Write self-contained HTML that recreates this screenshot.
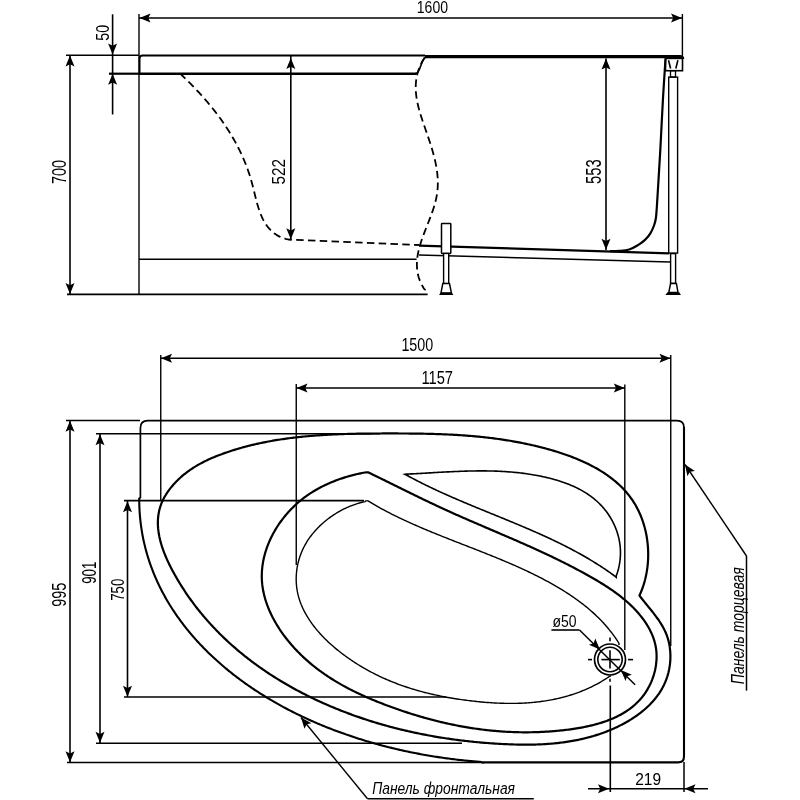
<!DOCTYPE html>
<html><head><meta charset="utf-8"><style>
html,body{margin:0;padding:0;background:#fff;}
svg{display:block;filter:grayscale(1);}
text{font-family:"Liberation Sans",sans-serif;fill:#000;stroke:none;}
</style></head><body>
<svg width="800" height="800" viewBox="0 0 800 800">
<rect width="800" height="800" fill="#fff"/>
<g fill="none" stroke="#000" stroke-linecap="butt">
<line x1="139" y1="18" x2="682.4" y2="18" stroke-width="1.4" />
<path d="M139.5,18 L150.5,13.5 L148.3,18 L150.5,22.5 Z" fill="#000" stroke="none"/>
<path d="M682,18 L671,22.5 L673.2,18 L671,13.5 Z" fill="#000" stroke="none"/>
<line x1="682.4" y1="14" x2="682.4" y2="56" stroke-width="1.4" />
<line x1="139" y1="14" x2="139" y2="294.5" stroke-width="1.4" />
<text x="416.8" y="13.4" font-size="17.2" textLength="31.18" lengthAdjust="spacingAndGlyphs" text-anchor="start">1600</text>
<line x1="112.6" y1="14.3" x2="112.6" y2="114.5" stroke-width="1.6" />
<path d="M112.6,54.5 L108.1,43.5 L112.6,45.7 L117.1,43.5 Z" fill="#000" stroke="none"/>
<path d="M112.6,73.8 L117.1,84.8 L112.6,82.6 L108.1,84.8 Z" fill="#000" stroke="none"/>
<line x1="66" y1="55.3" x2="139" y2="55.3" stroke-width="1.4" />
<line x1="109" y1="73.7" x2="139" y2="73.7" stroke-width="2.2" />
<text x="108.8" y="40.8" font-size="19.28" textLength="15.93" lengthAdjust="spacingAndGlyphs" transform="rotate(-90 108.8 40.8)" text-anchor="start">50</text>
<line x1="70" y1="55.3" x2="70" y2="294.3" stroke-width="1.6" />
<path d="M70,55.5 L74.5,66.5 L70,64.3 L65.5,66.5 Z" fill="#000" stroke="none"/>
<path d="M70,294 L65.5,283 L70,285.2 L74.5,283 Z" fill="#000" stroke="none"/>
<text x="66" y="184" font-size="20.71" textLength="24.14" lengthAdjust="spacingAndGlyphs" transform="rotate(-90 66 184)" text-anchor="start">700</text>
<path d="M139.6,73.7 L139.6,58.5 Q139.6,55.5 142.6,55.5 L425,55.5" stroke-width="1.8"/>
<line x1="139" y1="73.7" x2="416.3" y2="73.7" stroke-width="2.4" />
<path d="M415.5,73.7 C418.5,73.6 419.8,69 421,65 C422.3,60.5 423.5,57.2 427,56.8" stroke-width="1.7"/>
<path d="M425,56.6 L680,56.6 Q682.6,56.6 682.6,59" stroke-width="3.3"/>
<line x1="139" y1="259.3" x2="416.6" y2="259.3" stroke-width="1.5" />
<line x1="67" y1="294.4" x2="427.6" y2="294.4" stroke-width="1.8" />
<path d="M179.6,73.9 L181.12,74.45 182.21,75.49 183.29,76.54 184.38,77.59 185.46,78.64 186.53,79.7 187.61,80.76 188.67,81.83 189.74,82.9 190.8,83.97 191.86,85.05 192.91,86.14 193.96,87.22 195,88.32 196.04,89.41 197.07,90.51 198.1,91.62 199.12,92.73 200.14,93.84 201.16,94.96 202.16,96.08 203.17,97.21 204.16,98.34 205.16,99.48 206.14,100.62 207.12,101.77 208.1,102.92 209.06,104.07 210.03,105.24 210.98,106.4 211.93,107.57 212.87,108.75 213.81,109.93 214.74,111.11 215.66,112.3 216.58,113.49 217.49,114.69 218.39,115.9 219.28,117.11 220.17,118.32 221.05,119.54 221.92,120.77 222.79,122 223.64,123.23 224.49,124.48 225.33,125.72 226.17,126.97 226.99,128.23 227.81,129.49 228.62,130.76 229.42,132.03 230.21,133.31 230.99,134.59 231.76,135.88 232.53,137.18 233.28,138.48 234.03,139.79 234.76,141.1 235.49,142.41 236.21,143.74 236.92,145.07 237.61,146.4 238.3,147.74 238.98,149.09 239.65,150.44 240.31,151.8 240.96,153.16 241.59,154.53 242.22,155.91 242.84,157.29 243.44,158.68 244.04,160.07 244.62,161.47 245.2,162.87 245.76,164.29 246.31,165.7 246.85,167.13 247.38,168.56 247.89,170 248.4,171.44 248.89,172.89 249.37,174.34 249.84,175.81 250.3,177.28 250.74,178.75 251.18,180.23 251.6,181.72 252,183.21 252.4,184.71 252.79,186.22 253.17,187.72 253.55,189.23 253.92,190.74 254.29,192.25 254.65,193.76 255.02,195.26 255.39,196.76 255.77,198.26 256.15,199.75 256.54,201.23 256.93,202.7 257.34,204.17 257.76,205.62 258.2,207.06 258.64,208.49 259.11,209.91 259.59,211.31 260.1,212.69 260.63,214.06 261.18,215.41 261.75,216.73 262.36,218.04 262.99,219.33 263.65,220.59 264.34,221.83 265.07,223.04 265.83,224.23 266.63,225.39 267.46,226.52 268.34,227.62 269.26,228.69 270.22,229.73 271.22,230.73 272.27,231.7 273.37,232.62 274.51,233.51 275.71,234.35 276.95,235.14 278.24,235.88 279.59,236.58 280.99,237.21 282.45,237.8 283.96,238.32 285.52,238.78 287.15,239.18 288.84,239.51 290.58,239.77 292,239.6 L419,245" stroke-width="1.8" stroke-dasharray="7.5 4.3"/>
<path d="M424.5,57.5 L424.06,58.62 423.16,60.09 422.32,61.55 421.54,63.02 420.82,64.48 420.15,65.95 419.53,67.41 418.96,68.87 418.44,70.33 417.98,71.8 417.56,73.26 417.18,74.71 416.86,76.17 416.57,77.63 416.33,79.09 416.14,80.55 415.98,82 415.86,83.46 415.78,84.91 415.74,86.37 415.73,87.82 415.76,89.28 415.82,90.73 415.92,92.19 416.04,93.64 416.2,95.09 416.38,96.54 416.59,98 416.83,99.45 417.09,100.9 417.37,102.35 417.68,103.8 418.01,105.25 418.36,106.7 418.73,108.15 419.12,109.61 419.52,111.06 419.94,112.51 420.37,113.96 420.81,115.41 421.27,116.86 421.74,118.31 422.21,119.76 422.7,121.21 423.19,122.66 423.68,124.11 424.19,125.57 424.69,127.02 425.2,128.47 425.7,129.92 426.21,131.38 426.71,132.83 427.22,134.28 427.72,135.73 428.21,137.19 428.7,138.64 429.19,140.1 429.67,141.55 430.14,143.01 430.61,144.46 431.06,145.92 431.51,147.37 431.95,148.83 432.38,150.28 432.8,151.74 433.2,153.2 433.6,154.65 433.98,156.11 434.35,157.56 434.7,159.02 435.04,160.48 435.36,161.93 435.66,163.39 435.95,164.85 436.22,166.3 436.47,167.76 436.71,169.21 436.92,170.67 437.11,172.13 437.28,173.58 437.43,175.04 437.55,176.5 437.66,177.95 437.73,179.41 437.79,180.86 437.81,182.32 437.81,183.77 437.79,185.23 437.74,186.68 437.65,188.14 437.54,189.59 437.4,191.05 437.23,192.5 437.03,193.96 436.79,195.41 436.53,196.86 436.23,198.31 435.91,199.77 435.56,201.22 435.18,202.67 434.78,204.12 434.36,205.57 433.92,207.03 433.46,208.48 432.98,209.93 432.48,211.38 431.97,212.83 431.45,214.28 430.92,215.72 430.37,217.17 429.82,218.62 429.26,220.07 428.7,221.52 428.13,222.97 427.56,224.41 426.99,225.86 426.42,227.31 425.85,228.75 425.29,230.2 424.73,231.64 424.18,233.09 423.64,234.53 423.1,235.98 422.58,237.42 422.07,238.87 421.58,240.31 421.1,241.75 420.64,243.19 420.2,244.64 419.78,246.08 419.38,247.52 419.01,248.96 418.66,250.4 418.34,251.84 418.04,253.28 417.78,254.72 417.54,256.16 417.34,257.6 417.18,259.04 417.05,260.48 416.96,261.91 416.9,263.35 416.89,264.79 416.92,266.23 416.99,267.66 417.11,269.1 417.28,270.53 417.49,271.97 417.75,273.4 418.07,274.84 418.43,276.27 418.85,277.7 419.33,279.14 419.86,280.57 420.46,282 421.11,283.43 421.83,284.86 422.61,286.29 423.45,287.73 424.36,289.16 425.6,289.9" stroke-width="1.8" stroke-dasharray="7.5 4.3"/>
<line x1="290.8" y1="55.5" x2="290.8" y2="239.5" stroke-width="1.6" />
<path d="M290.8,58 L295.3,69 L290.8,66.8 L286.3,69 Z" fill="#000" stroke="none"/>
<path d="M290.8,239.3 L286.3,228.3 L290.8,230.5 L295.3,228.3 Z" fill="#000" stroke="none"/>
<text x="285.2" y="184.4" font-size="19.18" textLength="25.51" lengthAdjust="spacingAndGlyphs" transform="rotate(-90 285.2 184.4)" text-anchor="start">522</text>
<line x1="606" y1="58.5" x2="606" y2="250" stroke-width="1.6" />
<path d="M606,58.6 L610.5,69.6 L606,67.4 L601.5,69.6 Z" fill="#000" stroke="none"/>
<path d="M606,249.8 L601.5,238.8 L606,241 L610.5,238.8 Z" fill="#000" stroke="none"/>
<text x="601.4" y="184" font-size="21.37" textLength="24.6" lengthAdjust="spacingAndGlyphs" transform="rotate(-90 601.4 184)" text-anchor="start">553</text>
<line x1="419" y1="245.6" x2="669" y2="253.3" stroke-width="2.2" />
<line x1="419" y1="255" x2="670" y2="262" stroke-width="1.5" />
<path d="M665.5,58.8 C665.07,65.67 663.77,84.8 662.9,100 C662.03,115.2 661.13,135 660.3,150 C659.47,165 658.48,180.42 657.9,190 C657.32,199.58 657.13,202.83 656.8,207.5 C656.47,212.17 656.33,215.08 655.9,218 C655.47,220.92 655.15,222.38 654.2,225 C653.25,227.62 651.73,231.22 650.2,233.7 C648.67,236.18 647.03,238 645,239.9 C642.97,241.8 640.63,243.5 638,245.1 C635.37,246.7 632.41,248.53 629.2,249.5 C625.99,250.47 621.95,250.62 618.75,250.9 C615.55,251.18 611.46,251.15 610,251.2" stroke-width="2.2" />
<rect x="665.5" y="58.4" width="17" height="12.3" stroke-width="1.6"/>
<path d="M668.5,60.3 L670.6,68.5 M677.9,60.3 L675.8,68.5" stroke-width="1.6"/>
<rect x="670.5" y="70.7" width="5" height="6.4" stroke-width="1.3"/>
<rect x="668.7" y="77.1" width="8.9" height="176" stroke-width="1.4"/>
<rect x="670.6" y="253.6" width="5" height="29.8" stroke-width="1.4" fill="#fff"/>
<path d="M670.6,283.4 L676.4,283.4 L678,292.4 L668.8,292.4 Z" stroke-width="1.5" fill="#fff"/>
<path d="M667.5,292.2 L679.2,292.2 L681,294.9 L665.3,294.9 Z" fill="#000" stroke="none"/>
<rect x="441.5" y="223.6" width="9.3" height="29.8" rx="0.6" stroke-width="1.5" fill="#fff"/>
<rect x="443.6" y="253.4" width="5.1" height="30.2" stroke-width="1.4" fill="#fff"/>
<path d="M442.8,283.6 L449.5,283.6 L451.4,292.9 L441,292.9 Z" stroke-width="1.5" fill="#fff"/>
<path d="M440.6,292.7 L451.8,292.7 L453.4,295.1 L439,295.1 Z" fill="#000" stroke="none"/>
<line x1="160.75" y1="358.25" x2="670.75" y2="358.25" stroke-width="1.4" />
<path d="M161,358.25 L172,353.75 L169.8,358.25 L172,362.75 Z" fill="#000" stroke="none"/>
<path d="M670.5,358.25 L659.5,362.75 L661.7,358.25 L659.5,353.75 Z" fill="#000" stroke="none"/>
<line x1="160.75" y1="355" x2="160.75" y2="500" stroke-width="1.4" />
<line x1="670.75" y1="355" x2="670.75" y2="646" stroke-width="1.4" />
<text x="401.4" y="350.6" font-size="19.18" textLength="31.82" lengthAdjust="spacingAndGlyphs" text-anchor="start">1500</text>
<line x1="296.25" y1="388" x2="625" y2="388" stroke-width="1.4" />
<path d="M296.5,388 L307.5,383.5 L305.3,388 L307.5,392.5 Z" fill="#000" stroke="none"/>
<path d="M624.8,388 L613.8,392.5 L616,388 L613.8,383.5 Z" fill="#000" stroke="none"/>
<line x1="296.25" y1="384" x2="296.25" y2="565" stroke-width="1.4" />
<line x1="624.8" y1="384.5" x2="624.8" y2="650" stroke-width="1.4" />
<text x="421.4" y="383.8" font-size="19.18" textLength="31.56" lengthAdjust="spacingAndGlyphs" text-anchor="start">1157</text>
<path d="M140.4,498 L140.4,428 Q140.4,420.6 147.8,420.6 L677,420.6 Q684,420.6 684,427.6" stroke-width="1.7"/>
<path d="M684,427 L684,756.5 Q684,762.4 678,762.4 L482.5,762.4 L482.5,762.5 L480.16,761.86 478.74,761.75 477.31,761.64 475.89,761.52 474.46,761.4 473.02,761.28 471.59,761.16 470.16,761.02 468.72,760.89 467.28,760.75 465.85,760.61 464.41,760.46 462.96,760.31 461.52,760.16 460.08,760 458.63,759.84 457.19,759.67 455.74,759.5 454.29,759.32 452.84,759.14 451.39,758.96 449.94,758.77 448.49,758.58 447.03,758.39 445.58,758.19 444.12,757.99 442.67,757.78 441.21,757.57 439.75,757.35 438.29,757.13 436.83,756.91 435.37,756.68 433.91,756.45 432.45,756.21 430.99,755.97 429.53,755.73 428.07,755.48 426.6,755.23 425.14,754.97 423.68,754.71 422.21,754.44 420.75,754.17 419.28,753.9 417.82,753.62 416.35,753.34 414.89,753.05 413.42,752.76 411.96,752.46 410.49,752.16 409.02,751.86 407.56,751.55 406.09,751.24 404.63,750.92 403.16,750.6 401.69,750.28 400.23,749.95 398.76,749.61 397.3,749.27 395.83,748.93 394.37,748.58 392.91,748.23 391.44,747.88 389.98,747.52 388.52,747.15 387.05,746.78 385.59,746.41 384.13,746.03 382.67,745.65 381.21,745.26 379.75,744.87 378.29,744.47 376.83,744.07 375.38,743.67 373.92,743.26 372.46,742.84 371.01,742.43 369.56,742 368.1,741.58 366.65,741.14 365.2,740.71 363.75,740.27 362.3,739.82 360.85,739.37 359.41,738.92 357.96,738.46 356.52,737.99 355.07,737.52 353.63,737.05 352.19,736.57 350.75,736.09 349.31,735.6 347.88,735.11 346.44,734.62 345.01,734.11 343.58,733.61 342.15,733.1 340.72,732.58 339.29,732.06 337.87,731.54 336.44,731.01 335.02,730.48 333.6,729.94 332.18,729.39 330.76,728.85 329.35,728.29 327.94,727.74 326.53,727.17 325.12,726.61 323.71,726.03 322.31,725.46 320.9,724.88 319.5,724.29 318.1,723.7 316.71,723.1 315.31,722.5 313.92,721.9 312.53,721.29 311.14,720.67 309.76,720.05 308.38,719.43 307,718.8 305.62,718.16 304.24,717.52 302.87,716.88 301.5,716.23 300.13,715.57 298.77,714.91 297.41,714.25 296.05,713.58 294.69,712.91 293.34,712.23 291.98,711.54 290.64,710.85 289.29,710.16 287.95,709.46 286.61,708.76 285.27,708.05 283.94,707.33 282.61,706.61 281.28,705.89 279.95,705.16 278.63,704.42 277.32,703.69 276,702.94 274.69,702.19 273.38,701.44 272.08,700.68 270.77,699.91 269.48,699.14 268.18,698.37 266.89,697.59 265.6,696.8 264.32,696.01 263.04,695.21 261.76,694.41 260.49,693.61 259.22,692.8 257.95,691.98 256.69,691.16 255.43,690.33 254.17,689.5 252.92,688.66 251.67,687.82 250.43,686.97 249.19,686.12 247.96,685.26 246.73,684.4 245.5,683.53 244.28,682.65 243.06,681.77 241.84,680.89 240.63,680 239.42,679.1 238.22,678.2 237.02,677.3 235.83,676.39 234.64,675.47 233.46,674.55 232.28,673.62 231.1,672.69 229.93,671.75 228.76,670.81 227.6,669.86 226.45,668.91 225.3,667.95 224.15,666.98 223.01,666.01 221.87,665.04 220.74,664.06 219.61,663.07 218.49,662.08 217.38,661.09 216.27,660.09 215.16,659.08 214.06,658.07 212.97,657.05 211.88,656.03 210.8,655 209.72,653.97 208.65,652.94 207.59,651.89 206.53,650.85 205.48,649.79 204.43,648.73 203.39,647.67 202.35,646.6 201.32,645.53 200.3,644.45 199.28,643.37 198.27,642.28 197.27,641.18 196.27,640.09 195.28,638.98 194.3,637.87 193.32,636.76 192.35,635.64 191.39,634.51 190.43,633.38 189.48,632.25 188.54,631.11 187.6,629.96 186.67,628.81 185.75,627.66 184.84,626.5 183.93,625.33 183.03,624.16 182.14,622.98 181.25,621.8 180.37,620.62 179.5,619.43 178.64,618.23 177.79,617.03 176.94,615.83 176.1,614.61 175.27,613.4 174.44,612.18 173.63,610.95 172.82,609.72 172.02,608.49 171.23,607.24 170.44,606 169.67,604.75 168.9,603.49 168.14,602.23 167.39,600.97 166.65,599.69 165.92,598.42 165.19,597.14 164.48,595.85 163.77,594.56 163.07,593.27 162.38,591.97 161.7,590.66 161.03,589.35 160.36,588.04 159.71,586.72 159.06,585.39 158.43,584.06 157.8,582.73 157.18,581.39 156.58,580.04 155.98,578.69 155.39,577.34 154.81,575.98 154.24,574.61 153.68,573.25 153.13,571.87 152.59,570.49 152.06,569.11 151.53,567.72 151.02,566.33 150.52,564.93 150.03,563.53 149.55,562.12 149.08,560.71 148.62,559.29 148.17,557.87 147.73,556.44 147.3,555.01 146.88,553.57 146.47,552.13 146.07,550.68 145.68,549.23 145.3,547.78 144.94,546.32 144.58,544.85 144.24,543.38 143.9,541.91 143.58,540.43 143.27,538.94 142.97,537.46 142.68,535.96 142.4,534.46 142.13,532.96 141.88,531.45 141.63,529.94 141.4,528.42 141.18,526.9 140.97,525.37 140.77,523.84 140.58,522.31 140.41,520.77 140.25,519.22 140.09,517.67 139.96,516.12 139.83,514.56 139.71,512.99 139.61,511.42 139.52,509.85 139.44,508.27 139.37,506.69 139.32,505.1 139.28,503.51 139.25,501.91 139.23,500.31 139.22,498.71 140.4,498" stroke-width="2.1"/>
<line x1="66" y1="420.5" x2="140" y2="420.5" stroke-width="1.4" />
<line x1="67" y1="762.5" x2="482.5" y2="762.5" stroke-width="1.6" />
<line x1="96" y1="433.8" x2="380" y2="433.8" stroke-width="1.4" />
<line x1="96" y1="743.2" x2="462" y2="743.2" stroke-width="1.4" />
<line x1="124" y1="500.6" x2="364" y2="500.6" stroke-width="1.8" />
<line x1="124" y1="697" x2="446" y2="697" stroke-width="1.4" />
<line x1="70" y1="420.5" x2="70" y2="762.5" stroke-width="1.6" />
<path d="M70,420.8 L74.5,431.8 L70,429.6 L65.5,431.8 Z" fill="#000" stroke="none"/>
<path d="M70,762.2 L65.5,751.2 L70,753.4 L74.5,751.2 Z" fill="#000" stroke="none"/>
<text x="65.8" y="606.8" font-size="19.31" textLength="24.19" lengthAdjust="spacingAndGlyphs" transform="rotate(-90 65.8 606.8)" text-anchor="start">995</text>
<line x1="100" y1="434" x2="100" y2="743" stroke-width="1.6" />
<path d="M100,434.2 L104.5,445.2 L100,443 L95.5,445.2 Z" fill="#000" stroke="none"/>
<path d="M100,742.8 L95.5,731.8 L100,734 L104.5,731.8 Z" fill="#000" stroke="none"/>
<text x="95.8" y="583.8" font-size="19.31" textLength="22.2" lengthAdjust="spacingAndGlyphs" transform="rotate(-90 95.8 583.8)" text-anchor="start">901</text>
<line x1="127.5" y1="501" x2="127.5" y2="697" stroke-width="1.6" />
<path d="M127.5,501.2 L132,512.2 L127.5,510 L123,512.2 Z" fill="#000" stroke="none"/>
<path d="M127.5,696.8 L123,685.8 L127.5,688 L132,685.8 Z" fill="#000" stroke="none"/>
<text x="124.2" y="600.8" font-size="19.18" textLength="22.15" lengthAdjust="spacingAndGlyphs" transform="rotate(-90 124.2 600.8)" text-anchor="start">750</text>
<path d="M640.75,597.3 L639.45,595.5 640.07,594.14 640.66,592.77 641.24,591.39 641.79,590 642.31,588.6 642.82,587.18 643.3,585.76 643.76,584.33 644.19,582.89 644.61,581.44 645,579.99 645.36,578.52 645.71,577.05 646.03,575.57 646.33,574.09 646.61,572.6 646.86,571.11 647.1,569.61 647.31,568.1 647.49,566.6 647.66,565.08 647.8,563.57 647.92,562.05 648.02,560.53 648.1,559.01 648.15,557.49 648.18,555.97 648.19,554.45 648.18,552.92 648.15,551.4 648.09,549.88 648.02,548.36 647.92,546.84 647.8,545.32 647.65,543.81 647.49,542.3 647.3,540.79 647.1,539.29 646.87,537.79 646.62,536.3 646.35,534.81 646.05,533.33 645.74,531.85 645.41,530.38 645.05,528.92 644.67,527.47 644.27,526.02 643.85,524.58 643.41,523.15 642.95,521.73 642.47,520.32 641.96,518.92 641.44,517.53 640.89,516.15 640.32,514.79 639.74,513.43 639.13,512.09 638.5,510.76 637.85,509.45 637.18,508.14 636.49,506.86 635.78,505.58 635.05,504.32 634.3,503.08 633.53,501.86 632.74,500.64 631.92,499.45 631.09,498.27 630.24,497.11 629.37,495.96 628.49,494.82 627.58,493.71 626.66,492.6 625.71,491.52 624.75,490.44 623.78,489.38 622.78,488.34 621.77,487.31 620.75,486.3 619.7,485.29 618.64,484.31 617.57,483.33 616.48,482.38 615.38,481.43 614.26,480.5 613.12,479.58 611.97,478.68 610.81,477.78 609.64,476.9 608.45,476.04 607.25,475.19 606.03,474.35 604.81,473.52 603.57,472.7 602.32,471.9 601.05,471.11 599.78,470.33 598.49,469.57 597.2,468.81 595.89,468.07 594.58,467.34 593.25,466.62 591.91,465.91 590.57,465.21 589.22,464.53 587.85,463.85 586.48,463.19 585.1,462.54 583.71,461.9 582.32,461.27 580.91,460.64 579.51,460.03 578.09,459.43 576.67,458.84 575.24,458.26 573.8,457.69 572.36,457.13 570.91,456.58 569.46,456.04 568,455.5 566.54,454.98 565.08,454.47 563.61,453.96 562.14,453.46 560.66,452.98 559.18,452.5 557.7,452.03 556.21,451.56 554.73,451.11 553.24,450.66 551.75,450.22 550.25,449.79 548.76,449.37 547.26,448.96 545.77,448.55 544.27,448.15 542.78,447.76 541.28,447.37 539.79,446.99 538.29,446.62 536.8,446.26 535.31,445.9 533.82,445.55 532.33,445.2 530.84,444.87 529.35,444.53 527.86,444.21 526.37,443.89 524.88,443.58 523.4,443.27 521.91,442.97 520.42,442.68 518.94,442.39 517.46,442.11 515.97,441.83 514.49,441.56 513.01,441.3 511.53,441.04 510.04,440.79 508.56,440.54 507.08,440.3 505.6,440.07 504.12,439.84 502.64,439.61 501.17,439.39 499.69,439.18 498.21,438.97 496.73,438.76 495.25,438.56 493.78,438.37 492.3,438.18 490.83,438 489.35,437.82 487.87,437.64 486.4,437.47 484.92,437.31 483.45,437.15 481.97,436.99 480.5,436.84 479.02,436.69 477.55,436.55 476.07,436.41 474.6,436.28 473.13,436.15 471.65,436.02 470.18,435.9 468.7,435.78 467.23,435.66 465.76,435.55 464.28,435.45 462.81,435.34 461.33,435.24 459.86,435.15 458.38,435.05 456.91,434.96 455.43,434.88 453.96,434.79 452.49,434.72 451.01,434.64 449.53,434.57 448.06,434.5 446.58,434.43 445.11,434.36 443.63,434.3 442.15,434.24 440.68,434.19 439.2,434.13 437.72,434.08 436.24,434.04 434.77,433.99 433.29,433.95 431.81,433.91 430.33,433.87 428.85,433.83 427.37,433.8 425.89,433.77 424.41,433.74 422.92,433.71 421.44,433.68 419.96,433.66 418.47,433.64 416.99,433.61 415.5,433.6 414.02,433.58 412.53,433.56 411.05,433.55 409.56,433.53 408.07,433.52 406.58,433.51 405.09,433.5 403.6,433.5 402.11,433.49 400.62,433.48 399.13,433.48 397.63,433.47 396.14,433.47 394.64,433.47 393.15,433.47 391.65,433.46 390.15,433.46 388.65,433.46 387.15,433.47 385.65,433.47 384.15,433.47 382.65,433.47 381.15,433.48 379.64,433.48 378.14,433.49 376.64,433.49 375.13,433.5 373.62,433.51 372.12,433.52 370.61,433.53 369.1,433.55 367.59,433.56 366.08,433.58 364.58,433.6 363.07,433.62 361.56,433.64 360.05,433.66 358.54,433.69 357.02,433.72 355.51,433.75 354,433.78 352.49,433.81 350.98,433.85 349.47,433.89 347.96,433.93 346.44,433.98 344.93,434.02 343.42,434.07 341.91,434.12 340.4,434.18 338.88,434.24 337.37,434.3 335.86,434.36 334.35,434.43 332.84,434.5 331.33,434.57 329.82,434.65 328.31,434.73 326.8,434.81 325.29,434.9 323.78,434.99 322.27,435.08 320.76,435.18 319.25,435.28 317.75,435.39 316.24,435.5 314.73,435.61 313.23,435.73 311.72,435.85 310.22,435.98 308.71,436.11 307.21,436.24 305.71,436.38 304.21,436.52 302.71,436.67 301.21,436.82 299.71,436.98 298.21,437.14 296.71,437.31 295.22,437.48 293.72,437.66 292.23,437.84 290.73,438.03 289.24,438.22 287.75,438.42 286.26,438.62 284.77,438.83 283.29,439.04 281.8,439.26 280.32,439.49 278.83,439.72 277.35,439.96 275.87,440.2 274.39,440.45 272.91,440.7 271.44,440.96 269.96,441.23 268.49,441.5 267.02,441.78 265.54,442.06 264.08,442.36 262.61,442.65 261.14,442.96 259.68,443.27 258.22,443.59 256.76,443.91 255.3,444.24 253.84,444.58 252.39,444.93 250.93,445.28 249.48,445.64 248.03,446.01 246.59,446.38 245.14,446.76 243.7,447.15 242.26,447.55 240.82,447.95 239.38,448.36 237.94,448.78 236.51,449.21 235.08,449.64 233.65,450.08 232.23,450.53 230.8,450.99 229.38,451.46 227.96,451.93 226.55,452.42 225.13,452.91 223.72,453.41 222.31,453.92 220.9,454.43 219.5,454.96 218.1,455.5 216.71,456.05 215.32,456.61 213.93,457.18 212.55,457.76 211.17,458.35 209.8,458.96 208.44,459.58 207.08,460.22 205.73,460.87 204.39,461.53 203.05,462.21 201.72,462.9 200.4,463.61 199.08,464.34 197.78,465.08 196.48,465.84 195.19,466.62 193.91,467.41 192.64,468.23 191.38,469.06 190.13,469.91 188.89,470.78 187.67,471.67 186.45,472.59 185.24,473.52 184.05,474.48 182.87,475.45 181.7,476.45 180.54,477.48 179.4,478.52 178.27,479.59 177.16,480.69 176.06,481.8 174.98,482.93 173.92,484.09 172.89,485.26 171.87,486.45 170.89,487.66 169.92,488.89 168.99,490.13 168.09,491.38 167.21,492.65 166.37,493.93 165.57,495.22 164.8,496.52 164.07,497.83 163.38,499.16 162.73,500.48 162.12,501.82 161.56,503.16 161.04,504.51 160.56,505.87 160.12,507.23 159.73,508.59 159.37,509.96 159.05,511.34 158.78,512.72 158.54,514.1 158.34,515.49 158.17,516.88 158.05,518.28 157.95,519.68 157.9,521.08 157.87,522.49 157.88,523.89 157.92,525.31 158,526.72 158.1,528.14 158.24,529.55 158.41,530.97 158.6,532.39 158.82,533.81 159.08,535.24 159.35,536.66 159.66,538.08 159.99,539.51 160.35,540.93 160.73,542.35 161.13,543.78 161.56,545.2 162.01,546.62 162.48,548.04 162.97,549.46 163.48,550.87 164.01,552.29 164.56,553.7 165.13,555.11 165.72,556.52 166.32,557.92 166.94,559.33 167.57,560.72 168.22,562.12 168.89,563.51 169.56,564.9 170.25,566.28 170.95,567.66 171.66,569.03 172.38,570.4 173.12,571.76 173.86,573.12 174.61,574.47 175.37,575.82 176.13,577.16 176.9,578.49 177.68,579.82 178.47,581.14 179.26,582.46 180.06,583.77 180.87,585.07 181.68,586.37 182.5,587.66 183.33,588.94 184.16,590.22 185,591.5 185.85,592.76 186.7,594.03 187.56,595.28 188.43,596.53 189.3,597.77 190.18,599.01 191.07,600.24 191.96,601.47 192.86,602.69 193.77,603.9 194.68,605.11 195.6,606.31 196.52,607.51 197.45,608.7 198.39,609.88 199.33,611.06 200.28,612.23 201.24,613.4 202.2,614.56 203.16,615.71 204.14,616.86 205.11,618 206.1,619.14 207.09,620.27 208.08,621.4 209.09,622.52 210.09,623.63 211.11,624.74 212.12,625.84 213.15,626.94 214.18,628.03 215.21,629.11 216.25,630.19 217.3,631.27 218.35,632.33 219.41,633.4 220.47,634.45 221.54,635.5 222.61,636.55 223.69,637.59 224.77,638.62 225.86,639.65 226.95,640.67 228.05,641.69 229.15,642.7 230.26,643.71 231.37,644.71 232.49,645.7 233.61,646.69 234.74,647.67 235.87,648.65 237.01,649.62 238.15,650.59 239.3,651.55 240.45,652.51 241.6,653.46 242.76,654.4 243.93,655.34 245.1,656.27 246.27,657.2 247.45,658.12 248.63,659.04 249.82,659.95 251.01,660.86 252.2,661.76 253.4,662.65 254.6,663.54 255.81,664.43 257.02,665.31 258.24,666.18 259.46,667.05 260.68,667.91 261.91,668.77 263.14,669.62 264.37,670.47 265.61,671.31 266.85,672.14 268.1,672.97 269.35,673.8 270.6,674.62 271.86,675.43 273.12,676.24 274.38,677.05 275.65,677.84 276.92,678.64 278.2,679.43 279.48,680.21 280.76,680.99 282.04,681.76 283.33,682.53 284.62,683.29 285.91,684.04 287.21,684.79 288.51,685.54 289.82,686.28 291.12,687.02 292.43,687.75 293.75,688.47 295.06,689.19 296.38,689.91 297.7,690.62 299.02,691.32 300.35,692.02 301.68,692.72 303.01,693.41 304.35,694.09 305.69,694.77 307.03,695.45 308.37,696.12 309.71,696.78 311.06,697.44 312.41,698.09 313.76,698.74 315.12,699.39 316.47,700.03 317.83,700.66 319.2,701.29 320.56,701.91 321.93,702.53 323.29,703.15 324.66,703.76 326.04,704.36 327.41,704.96 328.79,705.55 330.16,706.14 331.54,706.73 332.93,707.31 334.31,707.88 335.69,708.45 337.08,709.02 338.47,709.58 339.86,710.13 341.25,710.68 342.65,711.23 344.05,711.77 345.44,712.3 346.84,712.83 348.24,713.36 349.65,713.88 351.05,714.4 352.46,714.91 353.87,715.42 355.28,715.92 356.69,716.42 358.1,716.91 359.52,717.4 360.93,717.88 362.35,718.36 363.77,718.84 365.19,719.31 366.61,719.77 368.04,720.23 369.46,720.69 370.89,721.14 372.32,721.58 373.75,722.03 375.18,722.46 376.61,722.9 378.05,723.32 379.48,723.75 380.92,724.17 382.36,724.58 383.8,724.99 385.24,725.4 386.68,725.8 388.13,726.19 389.57,726.58 391.02,726.97 392.47,727.35 393.92,727.73 395.37,728.11 396.82,728.48 398.27,728.84 399.72,729.2 401.18,729.56 402.64,729.91 404.09,730.26 405.55,730.6 407.01,730.94 408.47,731.27 409.94,731.6 411.4,731.93 412.86,732.25 414.33,732.57 415.8,732.88 417.26,733.19 418.73,733.49 420.2,733.79 421.67,734.09 423.14,734.38 424.62,734.67 426.09,734.95 427.56,735.23 429.04,735.5 430.52,735.77 431.99,736.04 433.47,736.3 434.95,736.56 436.43,736.81 437.91,737.06 439.39,737.3 440.88,737.54 442.36,737.78 443.84,738.01 445.33,738.24 446.81,738.47 448.3,738.69 449.79,738.9 451.27,739.12 452.76,739.33 454.25,739.53 455.74,739.73 457.23,739.93 458.72,740.12 460.22,740.31 461.71,740.49 463.2,740.67 464.7,740.85 466.19,741.02 467.68,741.19 469.18,741.35 470.68,741.51 472.17,741.67 473.67,741.82 475.17,741.97 476.67,742.12 478.16,742.26 479.66,742.39 481.16,742.53 482.66,742.66 484.16,742.78 485.66,742.9 487.16,743.02 488.67,743.14 490.17,743.25 491.67,743.35 493.17,743.46 494.68,743.55 496.18,743.65 497.68,743.74 499.19,743.83 500.69,743.91 502.19,743.99 503.7,744.07 505.2,744.14 506.71,744.21 508.21,744.27 509.72,744.33 511.22,744.39 512.73,744.44 514.23,744.48 515.74,744.52 517.24,744.56 518.75,744.59 520.25,744.61 521.75,744.63 523.26,744.65 524.76,744.65 526.26,744.65 527.76,744.65 529.26,744.64 530.76,744.62 532.26,744.59 533.76,744.56 535.26,744.53 536.76,744.48 538.26,744.43 539.75,744.37 541.25,744.3 542.74,744.23 544.24,744.15 545.73,744.06 547.22,743.96 548.71,743.85 550.2,743.74 551.69,743.62 553.18,743.49 554.66,743.35 556.15,743.2 557.63,743.04 559.11,742.87 560.59,742.7 562.07,742.51 563.55,742.32 565.02,742.11 566.5,741.9 567.97,741.67 569.44,741.44 570.91,741.2 572.38,740.94 573.84,740.68 575.31,740.4 576.77,740.11 578.23,739.82 579.68,739.51 581.14,739.19 582.59,738.86 584.05,738.51 585.49,738.16 586.94,737.79 588.39,737.42 589.83,737.03 591.27,736.63 592.71,736.21 594.14,735.78 595.58,735.34 597.01,734.89 598.43,734.43 599.86,733.95 601.28,733.46 602.7,732.95 604.12,732.44 605.53,731.91 606.95,731.36 608.35,730.8 609.76,730.23 611.16,729.64 612.56,729.04 613.96,728.42 615.35,727.8 616.73,727.15 618.11,726.49 619.49,725.82 620.85,725.13 622.21,724.43 623.56,723.71 624.91,722.98 626.24,722.24 627.57,721.48 628.88,720.7 630.19,719.91 631.48,719.11 632.76,718.29 634.03,717.45 635.29,716.6 636.53,715.74 637.76,714.86 638.98,713.96 640.18,713.05 641.36,712.13 642.53,711.19 643.68,710.23 644.82,709.26 645.94,708.27 647.04,707.27 648.12,706.25 649.19,705.22 650.23,704.17 651.25,703.1 652.26,702.02 653.24,700.92 654.2,699.81 655.13,698.68 656.05,697.54 656.94,696.38 657.81,695.2 658.65,694.01 659.47,692.8 660.26,691.57 661.03,690.33 661.77,689.07 662.48,687.8 663.16,686.51 663.82,685.2 664.45,683.87 665.05,682.53 665.61,681.18 666.15,679.8 666.66,678.41 667.14,677.01 667.58,675.59 668,674.15 668.38,672.71 668.73,671.25 669.05,669.79 669.33,668.31 669.58,666.83 669.8,665.33 669.99,663.84 670.14,662.33 670.26,660.83 670.35,659.32 670.4,657.81 670.41,656.29 670.4,654.78 670.34,653.27 670.25,651.76 670.13,650.26 669.97,648.76 669.78,647.26 669.54,645.77 669.28,644.29 668.97,642.82 668.63,641.35 668.25,639.9 667.83,638.46 667.38,637.03 666.89,635.61 666.36,634.21 665.79,632.82 665.18,631.45 664.54,630.1 663.87,628.76 663.16,627.43 662.43,626.12 661.67,624.82 660.88,623.53 660.06,622.26 659.23,620.99 658.37,619.74 657.5,618.5 656.61,617.27 655.71,616.04 654.79,614.83 653.86,613.62 652.93,612.43 651.99,611.24 651.04,610.05 650.09,608.87 649.13,607.7 648.18,606.53 647.23,605.37 646.29,604.21 645.35,603.06 644.42,601.91 643.5,600.76 642.59,599.61 641.7,598.47 640.75,597.3" stroke-width="2.2" stroke-linejoin="round" />
<path d="M366.5,472.3 L368.12,472.33 369.44,472.96 370.77,473.6 372.09,474.24 373.42,474.89 374.75,475.53 376.08,476.18 377.41,476.83 378.74,477.48 380.08,478.13 381.41,478.79 382.75,479.45 384.09,480.1 385.43,480.76 386.77,481.42 388.12,482.09 389.46,482.75 390.81,483.41 392.15,484.08 393.5,484.74 394.85,485.41 396.2,486.08 397.55,486.74 398.9,487.41 400.26,488.08 401.61,488.75 402.97,489.42 404.32,490.08 405.68,490.75 407.04,491.42 408.4,492.09 409.76,492.76 411.12,493.42 412.48,494.09 413.84,494.76 415.2,495.42 416.56,496.09 417.93,496.75 419.29,497.41 420.66,498.07 422.02,498.74 423.39,499.39 424.76,500.05 426.12,500.71 427.49,501.36 428.86,502.02 430.22,502.67 431.59,503.32 432.96,503.96 434.33,504.61 435.7,505.25 437.07,505.89 438.44,506.53 439.81,507.17 441.18,507.8 442.54,508.44 443.91,509.06 445.28,509.69 446.65,510.32 448.02,510.94 449.39,511.56 450.76,512.17 452.13,512.79 453.5,513.4 454.87,514.02 456.24,514.63 457.61,515.23 458.98,515.84 460.35,516.44 461.72,517.05 463.09,517.65 464.45,518.25 465.82,518.85 467.19,519.45 468.56,520.04 469.93,520.64 471.3,521.23 472.67,521.82 474.04,522.41 475.4,523 476.77,523.59 478.14,524.18 479.51,524.77 480.88,525.36 482.24,525.95 483.61,526.53 484.98,527.12 486.34,527.7 487.71,528.29 489.08,528.87 490.44,529.46 491.81,530.04 493.18,530.63 494.54,531.21 495.91,531.8 497.27,532.38 498.64,532.97 500,533.55 501.36,534.14 502.73,534.72 504.09,535.31 505.46,535.89 506.82,536.48 508.18,537.07 509.54,537.66 510.9,538.25 512.27,538.84 513.63,539.43 514.99,540.02 516.35,540.61 517.71,541.21 519.07,541.8 520.43,542.4 521.79,543 523.14,543.6 524.5,544.2 525.86,544.8 527.22,545.4 528.57,546.01 529.93,546.61 531.29,547.22 532.64,547.83 534,548.45 535.35,549.06 536.7,549.68 538.06,550.3 539.41,550.92 540.76,551.54 542.11,552.16 543.47,552.79 544.82,553.42 546.17,554.05 547.52,554.69 548.86,555.33 550.21,555.97 551.56,556.61 552.91,557.25 554.25,557.9 555.6,558.55 556.95,559.21 558.29,559.87 559.63,560.53 560.98,561.19 562.32,561.86 563.66,562.53 565,563.2 566.35,563.88 567.69,564.56 569.03,565.24 570.36,565.93 571.7,566.62 573.04,567.32 574.38,568.02 575.71,568.72 577.05,569.43 578.38,570.14 579.71,570.86 581.05,571.58 582.38,572.3 583.71,573.03 585.04,573.76 586.37,574.5 587.7,575.24 589.03,575.99 590.36,576.74 591.68,577.49 593.01,578.25 594.33,579.02 595.65,579.79 596.97,580.57 598.29,581.35 599.6,582.14 600.91,582.94 602.22,583.74 603.52,584.55 604.82,585.37 606.11,586.2 607.4,587.04 608.68,587.88 609.95,588.73 611.22,589.59 612.49,590.47 613.74,591.35 614.99,592.24 616.23,593.14 617.46,594.05 618.69,594.97 619.9,595.91 621.11,596.85 622.3,597.81 623.49,598.78 624.67,599.76 625.83,600.75 626.99,601.76 628.13,602.78 629.26,603.81 630.38,604.86 631.49,605.92 632.58,606.99 633.66,608.08 634.73,609.18 635.78,610.3 636.81,611.43 637.83,612.57 638.83,613.73 639.81,614.89 640.77,616.07 641.71,617.27 642.63,618.47 643.53,619.69 644.41,620.92 645.26,622.16 646.09,623.41 646.89,624.68 647.66,625.95 648.41,627.24 649.14,628.54 649.83,629.84 650.49,631.16 651.13,632.49 651.73,633.82 652.3,635.17 652.84,636.53 653.35,637.89 653.82,639.27 654.26,640.65 654.66,642.05 655.03,643.45 655.35,644.86 655.64,646.27 655.89,647.7 656.1,649.13 656.28,650.57 656.41,652.02 656.51,653.47 656.57,654.92 656.59,656.38 656.58,657.84 656.53,659.3 656.44,660.76 656.32,662.22 656.16,663.67 655.97,665.13 655.75,666.58 655.49,668.03 655.2,669.47 654.88,670.91 654.52,672.34 654.13,673.76 653.71,675.18 653.26,676.58 652.78,677.97 652.27,679.36 651.73,680.73 651.17,682.08 650.57,683.43 649.94,684.76 649.29,686.07 648.61,687.36 647.9,688.64 647.17,689.9 646.4,691.14 645.62,692.36 644.81,693.56 643.97,694.74 643.11,695.89 642.22,697.03 641.31,698.13 640.38,699.21 639.43,700.27 638.45,701.31 637.45,702.32 636.43,703.31 635.39,704.28 634.33,705.22 633.25,706.14 632.15,707.04 631.03,707.92 629.89,708.78 628.73,709.62 627.55,710.43 626.36,711.23 625.14,712 623.91,712.76 622.67,713.5 621.41,714.21 620.13,714.91 618.84,715.59 617.53,716.25 616.21,716.89 614.88,717.52 613.53,718.13 612.17,718.72 610.79,719.29 609.4,719.84 608.01,720.38 606.6,720.91 605.17,721.42 603.74,721.91 602.3,722.38 600.85,722.84 599.39,723.29 597.92,723.72 596.44,724.14 594.95,724.55 593.46,724.94 591.95,725.31 590.45,725.68 588.93,726.03 587.41,726.36 585.88,726.69 584.35,727 582.81,727.31 581.27,727.6 579.73,727.88 578.18,728.14 576.63,728.4 575.07,728.65 573.51,728.89 571.95,729.11 570.39,729.33 568.83,729.54 567.27,729.74 565.71,729.93 564.15,730.12 562.59,730.29 561.03,730.46 559.47,730.62 557.91,730.77 556.35,730.91 554.8,731.05 553.25,731.18 551.7,731.3 550.15,731.42 548.6,731.53 547.05,731.63 545.51,731.72 543.97,731.81 542.43,731.89 540.89,731.96 539.35,732.03 537.81,732.08 536.28,732.13 534.75,732.18 533.22,732.22 531.69,732.25 530.16,732.27 528.63,732.29 527.11,732.3 525.58,732.3 524.06,732.29 522.54,732.28 521.02,732.27 519.5,732.24 517.99,732.21 516.47,732.17 514.96,732.13 513.45,732.08 511.94,732.02 510.43,731.96 508.92,731.89 507.42,731.81 505.92,731.73 504.41,731.64 502.91,731.54 501.41,731.44 499.91,731.33 498.42,731.21 496.92,731.09 495.43,730.96 493.94,730.83 492.45,730.69 490.96,730.54 489.47,730.39 487.98,730.23 486.5,730.06 485.01,729.89 483.53,729.72 482.05,729.53 480.57,729.34 479.09,729.15 477.62,728.95 476.14,728.74 474.67,728.53 473.19,728.31 471.72,728.08 470.25,727.85 468.78,727.61 467.32,727.37 465.85,727.12 464.39,726.87 462.92,726.61 461.46,726.35 460,726.08 458.54,725.8 457.08,725.52 455.63,725.23 454.17,724.94 452.72,724.64 451.26,724.34 449.81,724.03 448.36,723.71 446.91,723.39 445.46,723.07 444.02,722.74 442.57,722.4 441.13,722.06 439.69,721.71 438.24,721.36 436.8,721.01 435.37,720.64 433.93,720.28 432.49,719.91 431.05,719.53 429.62,719.15 428.19,718.76 426.76,718.37 425.32,717.97 423.9,717.57 422.47,717.16 421.04,716.75 419.61,716.33 418.19,715.91 416.77,715.48 415.34,715.05 413.92,714.62 412.5,714.18 411.08,713.73 409.66,713.28 408.25,712.83 406.83,712.37 405.42,711.9 404,711.44 402.59,710.96 401.18,710.49 399.77,710 398.36,709.52 396.95,709.03 395.54,708.53 394.14,708.03 392.73,707.53 391.33,707.02 389.93,706.51 388.52,705.99 387.12,705.47 385.72,704.95 384.33,704.42 382.93,703.88 381.53,703.34 380.14,702.8 378.75,702.25 377.36,701.69 375.97,701.13 374.59,700.57 373.2,700 371.82,699.42 370.44,698.84 369.07,698.25 367.69,697.66 366.32,697.06 364.95,696.45 363.59,695.84 362.23,695.22 360.87,694.6 359.51,693.97 358.16,693.33 356.81,692.68 355.46,692.03 354.12,691.37 352.78,690.71 351.44,690.04 350.11,689.36 348.78,688.67 347.46,687.97 346.14,687.27 344.82,686.56 343.51,685.84 342.2,685.12 340.9,684.39 339.6,683.64 338.31,682.89 337.02,682.13 335.74,681.37 334.46,680.59 333.19,679.81 331.92,679.02 330.66,678.21 329.4,677.4 328.15,676.58 326.9,675.75 325.66,674.92 324.42,674.07 323.2,673.21 321.97,672.34 320.76,671.47 319.54,670.58 318.34,669.68 317.14,668.78 315.95,667.86 314.77,666.93 313.59,666 312.42,665.05 311.25,664.09 310.09,663.12 308.94,662.14 307.8,661.15 306.66,660.15 305.53,659.14 304.41,658.11 303.3,657.08 302.19,656.03 301.09,654.97 300,653.9 298.92,652.82 297.84,651.73 296.78,650.62 295.72,649.51 294.67,648.38 293.63,647.24 292.61,646.09 291.59,644.93 290.58,643.76 289.59,642.58 288.6,641.39 287.63,640.19 286.67,638.98 285.72,637.77 284.78,636.54 283.86,635.3 282.95,634.06 282.06,632.8 281.18,631.54 280.31,630.27 279.46,628.99 278.63,627.7 277.81,626.41 277.01,625.11 276.22,623.8 275.45,622.48 274.69,621.16 273.96,619.83 273.24,618.49 272.54,617.15 271.86,615.8 271.2,614.44 270.56,613.08 269.93,611.72 269.33,610.35 268.75,608.97 268.19,607.59 267.65,606.2 267.13,604.81 266.63,603.41 266.15,602.01 265.7,600.61 265.27,599.2 264.86,597.79 264.48,596.37 264.12,594.95 263.79,593.53 263.47,592.11 263.19,590.68 262.93,589.25 262.69,587.81 262.49,586.38 262.3,584.94 262.15,583.5 262.02,582.06 261.92,580.62 261.85,579.18 261.8,577.74 261.79,576.29 261.8,574.85 261.84,573.4 261.9,571.96 261.99,570.51 262.11,569.07 262.25,567.62 262.42,566.18 262.62,564.74 262.84,563.3 263.09,561.87 263.36,560.44 263.65,559 263.97,557.58 264.32,556.15 264.69,554.73 265.08,553.32 265.5,551.9 265.94,550.5 266.4,549.09 266.88,547.7 267.39,546.3 267.92,544.92 268.47,543.54 269.04,542.16 269.64,540.79 270.25,539.43 270.89,538.08 271.55,536.73 272.22,535.39 272.92,534.06 273.64,532.74 274.38,531.43 275.13,530.12 275.91,528.83 276.71,527.54 277.52,526.26 278.35,525 279.2,523.74 280.07,522.5 280.96,521.26 281.86,520.04 282.78,518.83 283.72,517.63 284.67,516.44 285.64,515.27 286.63,514.1 287.63,512.95 288.65,511.82 289.69,510.69 290.74,509.59 291.8,508.49 292.88,507.41 293.97,506.35 295.08,505.3 296.2,504.26 297.34,503.24 298.49,502.24 299.65,501.25 300.82,500.28 302.01,499.32 303.21,498.39 304.42,497.47 305.65,496.57 306.88,495.68 308.13,494.81 309.39,493.96 310.66,493.13 311.93,492.31 313.22,491.51 314.52,490.73 315.83,489.96 317.14,489.21 318.47,488.48 319.8,487.76 321.14,487.05 322.49,486.37 323.85,485.7 325.21,485.04 326.58,484.4 327.96,483.78 329.34,483.17 330.73,482.57 332.12,481.99 333.52,481.43 334.92,480.88 336.33,480.34 337.74,479.82 339.16,479.31 340.58,478.82 342,478.34 343.42,477.87 344.85,477.42 346.28,476.99 347.71,476.56 349.14,476.15 350.57,475.75 352.01,475.37 353.44,475 354.88,474.64 356.31,474.29 357.75,473.96 359.18,473.64 360.61,473.33 362.04,473.03 363.47,472.75 364.89,472.48 366.5,472.3" stroke-width="2.2" stroke-linejoin="round" stroke-linecap="round"/>
<path d="M619,645 L618.97,643.31 618.14,642 617.29,640.7 616.44,639.42 615.57,638.15 614.7,636.89 613.81,635.65 612.91,634.42 612,633.2 611.07,632 610.14,630.81 609.2,629.63 608.24,628.46 607.28,627.31 606.3,626.17 605.31,625.04 604.32,623.92 603.31,622.82 602.3,621.72 601.27,620.64 600.24,619.57 599.19,618.51 598.14,617.46 597.08,616.43 596.01,615.4 594.93,614.38 593.84,613.38 592.74,612.38 591.64,611.4 590.52,610.42 589.4,609.46 588.27,608.5 587.14,607.56 585.99,606.62 584.84,605.69 583.68,604.78 582.52,603.87 581.34,602.97 580.16,602.08 578.98,601.19 577.78,600.32 576.59,599.45 575.38,598.6 574.17,597.75 572.95,596.9 571.73,596.07 570.5,595.24 569.27,594.42 568.03,593.61 566.78,592.81 565.53,592.01 564.28,591.22 563.02,590.43 561.76,589.65 560.49,588.88 559.22,588.11 557.94,587.35 556.66,586.6 555.37,585.85 554.08,585.11 552.79,584.37 551.49,583.64 550.19,582.92 548.89,582.2 547.58,581.48 546.27,580.77 544.95,580.07 543.64,579.37 542.31,578.68 540.99,577.99 539.66,577.3 538.33,576.62 536.99,575.95 535.65,575.28 534.31,574.61 532.97,573.95 531.62,573.3 530.27,572.64 528.91,572 527.56,571.35 526.2,570.71 524.84,570.08 523.47,569.44 522.11,568.81 520.74,568.19 519.37,567.57 517.99,566.95 516.62,566.33 515.24,565.72 513.86,565.11 512.47,564.51 511.09,563.91 509.7,563.31 508.31,562.71 506.92,562.12 505.53,561.53 504.14,560.94 502.74,560.35 501.34,559.77 499.95,559.19 498.55,558.61 497.14,558.03 495.74,557.46 494.34,556.88 492.93,556.31 491.53,555.74 490.12,555.18 488.71,554.61 487.3,554.05 485.89,553.48 484.48,552.92 483.07,552.36 481.65,551.8 480.24,551.25 478.82,550.69 477.41,550.13 475.99,549.58 474.58,549.02 473.16,548.47 471.75,547.92 470.33,547.36 468.91,546.81 467.5,546.26 466.08,545.71 464.66,545.16 463.25,544.61 461.83,544.05 460.41,543.5 459,542.95 457.58,542.4 456.17,541.85 454.75,541.29 453.34,540.74 451.93,540.19 450.51,539.63 449.1,539.08 447.69,538.52 446.28,537.96 444.87,537.4 443.46,536.84 442.05,536.28 440.64,535.72 439.24,535.16 437.83,534.59 436.43,534.02 435.03,533.45 433.63,532.88 432.23,532.31 430.83,531.74 429.44,531.16 428.04,530.58 426.65,530 425.26,529.42 423.87,528.83 422.48,528.24 421.1,527.65 419.72,527.06 418.34,526.47 416.96,525.87 415.58,525.26 414.21,524.66 412.83,524.05 411.46,523.44 410.1,522.83 408.73,522.21 407.37,521.59 406.01,520.96 404.65,520.34 403.3,519.7 401.95,519.07 400.6,518.43 399.26,517.79 397.91,517.14 396.57,516.49 395.24,515.83 393.91,515.17 392.58,514.51 391.25,513.84 389.93,513.16 388.61,512.48 387.29,511.8 385.98,511.11 384.67,510.42 383.37,509.72 382.07,509.02 380.77,508.31 379.47,507.6 378.19,506.88 376.9,506.16 375.62,505.43 374.34,504.69 373.07,503.95 371.8,503.2 370.53,502.45 369.27,501.69 368.02,500.93 366.25,500.6" stroke-width="1.4" stroke-linejoin="round" />
<path d="M366.25,500.6 L365.23,501.57 363.8,501.87 362.36,502.21 360.93,502.57 359.5,502.96 358.07,503.38 356.64,503.83 355.22,504.3 353.8,504.8 352.38,505.32 350.96,505.87 349.55,506.44 348.15,507.04 346.75,507.66 345.36,508.31 343.98,508.98 342.6,509.68 341.23,510.4 339.87,511.14 338.53,511.9 337.19,512.69 335.86,513.5 334.54,514.33 333.24,515.18 331.95,516.05 330.67,516.94 329.41,517.86 328.16,518.79 326.93,519.75 325.72,520.72 324.52,521.71 323.33,522.73 322.17,523.76 321.02,524.81 319.89,525.87 318.79,526.96 317.7,528.06 316.63,529.18 315.59,530.31 314.56,531.47 313.56,532.63 312.58,533.82 311.63,535.02 310.7,536.23 309.8,537.46 308.92,538.71 308.07,539.97 307.25,541.24 306.45,542.53 305.68,543.82 304.94,545.14 304.23,546.46 303.55,547.8 302.9,549.15 302.28,550.51 301.69,551.88 301.13,553.26 300.6,554.65 300.09,556.05 299.62,557.45 299.18,558.86 298.77,560.28 298.39,561.71 298.04,563.14 297.72,564.57 297.43,566.01 297.17,567.46 296.94,568.9 296.74,570.35 296.57,571.8 296.43,573.25 296.33,574.7 296.25,576.15 296.2,577.6 296.19,579.05 296.2,580.49 296.25,581.94 296.32,583.37 296.43,584.81 296.57,586.24 296.74,587.67 296.93,589.09 297.17,590.5 297.43,591.91 297.72,593.3 298.04,594.7 298.39,596.08 298.77,597.46 299.18,598.83 299.62,600.19 300.08,601.55 300.57,602.89 301.09,604.24 301.64,605.57 302.21,606.89 302.8,608.21 303.42,609.52 304.07,610.82 304.74,612.11 305.43,613.4 306.14,614.68 306.88,615.95 307.64,617.21 308.43,618.46 309.23,619.7 310.05,620.94 310.9,622.16 311.76,623.38 312.65,624.59 313.55,625.79 314.47,626.98 315.41,628.17 316.37,629.34 317.34,630.51 318.34,631.66 319.34,632.81 320.37,633.95 321.41,635.07 322.46,636.19 323.53,637.3 324.61,638.4 325.71,639.49 326.82,640.57 327.94,641.64 329.07,642.7 330.22,643.75 331.38,644.79 332.54,645.82 333.72,646.84 334.91,647.85 336.11,648.85 337.31,649.84 338.53,650.82 339.75,651.79 340.98,652.75 342.22,653.7 343.47,654.63 344.72,655.56 345.98,656.47 347.24,657.38 348.51,658.27 349.78,659.16 351.05,660.03 352.33,660.89 353.62,661.74 354.91,662.57 356.2,663.4 357.49,664.22 358.79,665.02 360.09,665.82 361.4,666.6 362.71,667.38 364.02,668.14 365.33,668.89 366.65,669.64 367.98,670.37 369.3,671.09 370.63,671.8 371.96,672.5 373.3,673.2 374.64,673.88 375.98,674.55 377.33,675.21 378.68,675.87 380.03,676.51 381.39,677.14 382.74,677.77 384.11,678.38 385.47,678.99 386.84,679.58 388.21,680.17 389.58,680.75 390.96,681.32 392.34,681.88 393.72,682.43 395.11,682.97 396.49,683.5 397.88,684.03 399.28,684.54 400.67,685.05 402.07,685.55 403.48,686.04 404.88,686.53 406.29,687 407.7,687.47 409.11,687.92 410.52,688.37 411.94,688.82 413.36,689.25 414.78,689.68 416.21,690.09 417.63,690.51 419.06,690.91 420.5,691.31 421.93,691.69 423.37,692.07 424.81,692.45 426.25,692.81 427.69,693.17 429.13,693.53 430.58,693.87 432.03,694.21 433.48,694.54 434.94,694.87 436.39,695.18 437.85,695.49 439.31,695.8 440.77,696.1 442.24,696.39 443.7,696.67 445.17,696.95 446.64,697.23 448.11,697.49 449.58,697.75 451.06,698.01 452.54,698.26 454.01,698.5 455.49,698.74 456.98,698.97 458.46,699.19 459.94,699.41 461.43,699.63 462.92,699.84 464.41,700.04 465.9,700.24 467.39,700.43 468.89,700.62 470.38,700.8 471.88,700.98 473.38,701.15 474.88,701.32 476.38,701.48 477.88,701.64 479.38,701.79 480.88,701.93 482.39,702.07 483.89,702.21 485.4,702.33 486.91,702.45 488.41,702.57 489.92,702.67 491.43,702.77 492.94,702.87 494.45,702.95 495.95,703.03 497.46,703.11 498.97,703.17 500.48,703.23 501.99,703.28 503.5,703.32 505.01,703.36 506.52,703.38 508.03,703.4 509.53,703.41 511.04,703.41 512.55,703.41 514.05,703.39 515.56,703.37 517.06,703.34 518.57,703.29 520.07,703.24 521.57,703.18 523.07,703.11 524.57,703.04 526.07,702.95 527.57,702.85 529.06,702.74 530.55,702.62 532.05,702.5 533.54,702.36 535.03,702.21 536.52,702.05 538,701.88 539.49,701.7 540.97,701.51 542.45,701.31 543.93,701.09 545.4,700.87 546.88,700.63 548.35,700.39 549.82,700.13 551.28,699.86 552.75,699.57 554.21,699.28 555.67,698.97 557.12,698.65 558.58,698.32 560.03,697.98 561.47,697.62 562.92,697.25 564.36,696.87 565.8,696.48 567.23,696.07 568.67,695.65 570.09,695.21 571.52,694.77 572.94,694.31 574.36,693.83 575.77,693.34 577.18,692.84 578.59,692.32 579.99,691.79 581.39,691.24 582.79,690.68 584.18,690.11 585.56,689.52 586.95,688.91 588.32,688.29 589.7,687.66 591.07,687.01 592.43,686.34 593.79,685.66 595.15,684.97 596.5,684.26 597.84,683.53 599.18,682.78 600.52,682.02 601.85,681.25 603.18,680.45 604.5,679.65 605.81,678.82 607.12,677.98 608.43,677.12 609.73,676.24 611,675.9" stroke-width="1.4" stroke-linejoin="round" />
<path d="M405,474.4 L406.49,474.15 408,474.08 409.51,474 411.01,473.92 412.52,473.85 414.03,473.77 415.53,473.69 417.04,473.6 418.54,473.52 420.05,473.44 421.55,473.35 423.06,473.26 424.56,473.18 426.07,473.09 427.57,473 429.08,472.92 430.58,472.83 432.09,472.74 433.59,472.66 435.1,472.57 436.6,472.48 438.11,472.4 439.61,472.32 441.11,472.23 442.62,472.15 444.12,472.07 445.62,471.99 447.13,471.91 448.63,471.84 450.13,471.76 451.64,471.69 453.14,471.62 454.64,471.55 456.14,471.49 457.65,471.43 459.15,471.37 460.65,471.31 462.15,471.26 463.66,471.2 465.16,471.16 466.66,471.11 468.16,471.07 469.66,471.03 471.16,471 472.66,470.97 474.16,470.95 475.67,470.93 477.17,470.91 478.67,470.9 480.17,470.89 481.67,470.89 483.17,470.89 484.67,470.9 486.17,470.91 487.67,470.93 489.17,470.95 490.67,470.98 492.17,471.02 493.67,471.06 495.16,471.11 496.66,471.16 498.16,471.22 499.66,471.29 501.16,471.36 502.66,471.44 504.16,471.53 505.66,471.62 507.15,471.72 508.65,471.83 510.15,471.95 511.65,472.07 513.14,472.2 514.64,472.34 516.14,472.49 517.64,472.65 519.13,472.81 520.63,472.98 522.13,473.16 523.62,473.35 525.12,473.55 526.62,473.76 528.11,473.98 529.61,474.21 531.11,474.44 532.6,474.69 534.1,474.94 535.59,475.21 537.09,475.48 538.59,475.77 540.08,476.06 541.58,476.37 543.07,476.69 544.56,477.02 546.06,477.36 547.55,477.71 549.03,478.07 550.52,478.44 552,478.83 553.48,479.23 554.95,479.65 556.42,480.07 557.88,480.51 559.34,480.97 560.79,481.44 562.24,481.92 563.68,482.42 565.11,482.93 566.53,483.46 567.94,484 569.35,484.56 570.75,485.14 572.14,485.73 573.51,486.34 574.88,486.97 576.24,487.61 577.58,488.27 578.91,488.95 580.23,489.65 581.54,490.37 582.84,491.1 584.12,491.85 585.38,492.63 586.64,493.42 587.87,494.23 589.1,495.07 590.3,495.92 591.49,496.79 592.66,497.69 593.82,498.61 594.96,499.54 596.08,500.5 597.18,501.49 598.26,502.49 599.32,503.52 600.36,504.57 601.39,505.64 602.39,506.74 603.37,507.86 604.32,509 605.26,510.16 606.17,511.34 607.06,512.54 607.93,513.76 608.77,515 609.58,516.26 610.37,517.53 611.14,518.82 611.88,520.13 612.59,521.45 613.27,522.79 613.93,524.14 614.55,525.51 615.15,526.89 615.72,528.28 616.26,529.68 616.77,531.1 617.25,532.53 617.69,533.96 618.11,535.41 618.49,536.87 618.84,538.33 619.16,539.81 619.44,541.29 619.69,542.78 619.9,544.27 620.08,545.77 620.22,547.28 620.33,548.79 620.41,550.3 620.45,551.81 620.45,553.33 620.42,554.85 620.36,556.37 620.26,557.88 620.12,559.4 619.95,560.92 619.74,562.43 619.49,563.94 619.21,565.45 618.89,566.95 618.54,568.45 618.14,569.94 617.71,571.42 617.25,572.9 616.75,574.37 616.21,575.83 616.25,577.2 L616.25,577.2 L615.07,576.27 613.84,575.37 612.61,574.48 611.37,573.6 610.13,572.72 608.89,571.85 607.64,570.99 606.39,570.13 605.14,569.28 603.88,568.44 602.62,567.6 601.36,566.77 600.09,565.95 598.82,565.13 597.55,564.32 596.27,563.51 594.99,562.71 593.71,561.92 592.42,561.13 591.13,560.35 589.84,559.58 588.54,558.81 587.25,558.04 585.94,557.29 584.64,556.53 583.33,555.78 582.02,555.04 580.71,554.3 579.4,553.57 578.08,552.85 576.76,552.12 575.44,551.41 574.11,550.69 572.78,549.98 571.45,549.28 570.12,548.58 568.79,547.89 567.45,547.2 566.11,546.51 564.77,545.83 563.42,545.15 562.08,544.48 560.73,543.81 559.38,543.15 558.03,542.49 556.67,541.83 555.32,541.17 553.96,540.52 552.6,539.88 551.24,539.23 549.88,538.59 548.51,537.96 547.14,537.32 545.77,536.69 544.4,536.07 543.03,535.44 541.66,534.82 540.28,534.2 538.91,533.59 537.53,532.97 536.15,532.36 534.77,531.75 533.39,531.15 532.01,530.54 530.62,529.94 529.24,529.34 527.85,528.75 526.47,528.15 525.08,527.56 523.69,526.97 522.3,526.38 520.91,525.79 519.52,525.2 518.12,524.62 516.73,524.04 515.33,523.46 513.94,522.87 512.54,522.3 511.15,521.72 509.75,521.14 508.35,520.56 506.96,519.99 505.56,519.41 504.16,518.84 502.76,518.27 501.36,517.69 499.96,517.12 498.56,516.55 497.16,515.98 495.76,515.41 494.36,514.84 492.96,514.27 491.56,513.7 490.16,513.13 488.76,512.56 487.36,511.98 485.96,511.41 484.56,510.84 483.16,510.27 481.76,509.7 480.36,509.12 478.96,508.55 477.56,507.97 476.16,507.4 474.77,506.82 473.37,506.24 471.97,505.66 470.58,505.08 469.18,504.5 467.79,503.92 466.39,503.34 465,502.75 463.61,502.16 462.21,501.58 460.82,500.99 459.43,500.39 458.04,499.8 456.66,499.2 455.27,498.6 453.88,498 452.5,497.4 451.12,496.8 449.73,496.19 448.35,495.58 446.97,494.97 445.59,494.35 444.22,493.74 442.84,493.12 441.47,492.49 440.1,491.87 438.72,491.24 437.35,490.61 435.99,489.97 434.62,489.33 433.26,488.69 431.89,488.04 430.53,487.4 429.17,486.74 427.81,486.09 426.46,485.43 425.11,484.76 423.75,484.1 422.4,483.43 421.06,482.75 419.71,482.07 418.37,481.39 417.03,480.7 415.69,480.01 414.35,479.31 413.02,478.61 411.69,477.9 410.36,477.19 409.03,476.48 407.71,475.76 406.38,475.03 405,474.4 Z" stroke-width="1.6" stroke-linejoin="miter"/>
<circle cx="610" cy="659.5" r="15.5" stroke-width="1.7"/>
<circle cx="610" cy="659.5" r="12.2" stroke-width="1.6"/>
<line x1="588" y1="659.6" x2="592" y2="659.6" stroke-width="1.6" />
<line x1="601.4" y1="659.6" x2="619.8" y2="659.6" stroke-width="1.6" />
<line x1="628" y1="659.6" x2="633" y2="659.6" stroke-width="1.6" />
<line x1="610" y1="637.5" x2="610" y2="641.3" stroke-width="1.6" />
<line x1="610" y1="650.3" x2="610" y2="668.6" stroke-width="1.6" />
<line x1="610" y1="678.8" x2="610" y2="681.8" stroke-width="1.6" />
<line x1="610.3" y1="685.5" x2="610.3" y2="792" stroke-width="1.6" />
<text x="552.4" y="626.8" font-size="16.5" textLength="24.05" lengthAdjust="spacingAndGlyphs" text-anchor="start">ø50</text>
<line x1="551.4" y1="630" x2="579.5" y2="630" stroke-width="1.6" />
<line x1="579.5" y1="630" x2="635.1" y2="684.8" stroke-width="1.5" />
<path d="M599.9,649.4 L588.94,644.8 L593.68,643.18 L595.3,638.44 Z" fill="#000" stroke="none"/>
<path d="M620.9,670.1 L631.86,674.7 L627.12,676.32 L625.5,681.06 Z" fill="#000" stroke="none"/>
<line x1="588" y1="788.8" x2="708" y2="788.8" stroke-width="1.4" />
<path d="M609,788.8 L598,793.3 L600.2,788.8 L598,784.3 Z" fill="#000" stroke="none"/>
<path d="M684.5,788.8 L695.5,784.3 L693.3,788.8 L695.5,793.3 Z" fill="#000" stroke="none"/>
<line x1="684" y1="762" x2="684" y2="792" stroke-width="1.5" />
<text x="635.2" y="785" font-size="17.06" textLength="25.86" lengthAdjust="spacingAndGlyphs" text-anchor="start">219</text>
<line x1="685" y1="464.5" x2="746.5" y2="556" stroke-width="1.4" />
<path d="M685,464.5 L694.87,471.12 L689.91,471.8 L687.4,476.14 Z" fill="#000" stroke="none"/>
<line x1="746.5" y1="556" x2="746.5" y2="690.6" stroke-width="1.5" />
<text x="744" y="684.2" font-size="17.59" textLength="117.01" lengthAdjust="spacingAndGlyphs" transform="rotate(-90 744 684.2)" font-style="italic" text-anchor="start">Панель торцевая</text>
<line x1="301" y1="717.5" x2="367.5" y2="798.75" stroke-width="1.4" />
<path d="M301,717.5 L311.45,723.16 L306.57,724.31 L304.48,728.86 Z" fill="#000" stroke="none"/>
<line x1="367.5" y1="798.75" x2="533.75" y2="798.75" stroke-width="1.6" />
<text x="372.2" y="794" font-size="16.84" textLength="142.81" lengthAdjust="spacingAndGlyphs" font-style="italic" text-anchor="start">Панель фронтальная</text>
</g>
</svg>
</body></html>
